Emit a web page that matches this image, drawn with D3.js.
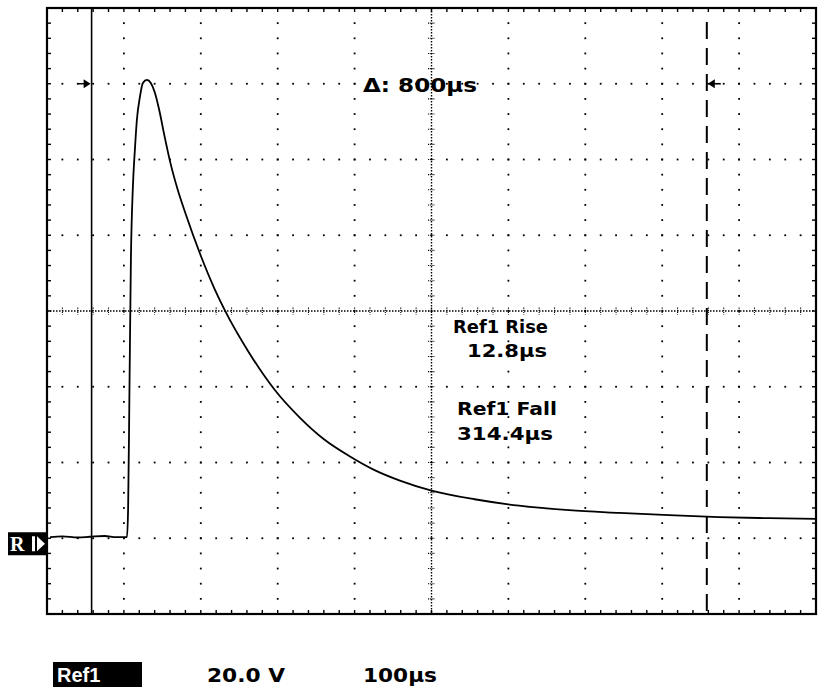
<!DOCTYPE html>
<html>
<head>
<meta charset="utf-8">
<script src="https://cdn.jsdelivr.net/npm/d3@7/dist/d3.min.js"></script>
<style>
  html, body { margin: 0; padding: 0; background: #fff; }
  svg { display: block; }
</style>
</head>
<body>
<script>
// Ref1 pulse: sample times (µs) and voltages (V)
const timeUs = [4, 20, 40, 56, 75, 90, 104, 105.5, 107.1, 109.1, 111.7, 114.3, 116.9, 120.8, 124.7,
  129.9, 135, 140, 146, 153, 160, 170, 180, 200, 218, 231, 264, 296, 329, 361, 394,
  426, 458, 500, 556, 614, 679, 744, 809, 874, 939, 1000];
const volts = [0.3, 0.5, 0.2, 0.4, 0.6, 0.3, 0.3, 8, 36.5, 73.5, 92.8, 102.6, 110.5, 116.5, 120.2,
  121.0, 120.2, 117.8, 113.0, 106.0, 99.5, 92.0, 85.8, 74.6, 65.8, 60.3, 48.6, 39.2, 31.8, 26.0, 21.6,
  18.0, 15.3, 12.6, 10.3, 8.6, 7.4, 6.7, 6.1, 5.6, 5.3, 5.1];

// Screen extents: 10 horizontal divisions at 100 µs/div, 8 vertical at 20 V/div
const timeDomain = [0, 1000];
const voltDomain = [-20, 140];
const timeDivs = [0, 100, 200, 300, 400, 500, 600, 700, 800, 900, 1000];
const voltDivs = [-20, 0, 20, 40, 60, 80, 100, 120, 140];

// Time cursors (solid, dashed) and the level they mark
const cursorTimes = [58, 858];
const cursorLevel = 120;

// Readouts
const deltaLabel = "\u0394: 800\u00b5s";
const measureLabels = ["Ref1 Rise", "12.8\u00b5s", "Ref1 Fall", "314.4\u00b5s"];
const statusLabels = ["Ref1", "20.0 V", "100\u00b5s"];

const W = 822, H = 690;
const svg = d3.select("body").append("svg").attr("width", W).attr("height", H);

const x = d3.scaleLinear().domain(timeDomain).range([47, 816]);
const y = d3.scaleLinear().domain(voltDomain).range([614, 8]);

const subT = (timeDivs[1] - timeDivs[0]) / 5;
const subV = (voltDivs[1] - voltDivs[0]) / 5;
const centreT = (timeDomain[0] + timeDomain[1]) / 2;
const centreV = (voltDomain[0] + voltDomain[1]) / 2;

const grat = svg.append("g").attr("fill", "#000");

// dotted division lines
const innerT = timeDivs.slice(1, -1).filter(t => t !== centreT);
const innerV = voltDivs.slice(1, -1).filter(v => v !== centreV);
const vSteps = d3.range(voltDomain[0] + subV, voltDomain[1], subV);
const tSteps = d3.range(timeDomain[0] + subT, timeDomain[1], subT);
innerT.forEach(t => {
  vSteps.forEach(v => grat.append("rect")
    .attr("x", x(t) - 0.9).attr("y", y(v) - 0.9).attr("width", 1.8).attr("height", 1.8));
});
innerV.forEach(v => {
  tSteps.forEach(t => grat.append("rect")
    .attr("x", x(t) - 0.9).attr("y", y(v) - 0.9).attr("width", 1.8).attr("height", 1.8));
});

// centre cross with sub-division ticks
const cross = svg.append("g").attr("stroke", "#000").attr("fill", "none");
cross.append("line")
  .attr("x1", x(centreT)).attr("x2", x(centreT)).attr("y1", y(voltDomain[1])).attr("y2", y(voltDomain[0]))
  .attr("stroke-width", 1.4).attr("stroke-dasharray", "1.5,1.5");
cross.append("line")
  .attr("x1", x(timeDomain[0])).attr("x2", x(timeDomain[1])).attr("y1", y(centreV)).attr("y2", y(centreV))
  .attr("stroke-width", 1.4).attr("stroke-dasharray", "1.5,1.5");
vSteps.forEach(v => cross.append("line")
  .attr("x1", x(centreT) - 3.5).attr("x2", x(centreT) + 3.5).attr("y1", y(v)).attr("y2", y(v))
  .attr("stroke-width", 1.1).attr("stroke-dasharray", "1.2,1"));
tSteps.forEach(t => cross.append("line")
  .attr("x1", x(t)).attr("x2", x(t)).attr("y1", y(centreV) - 3.5).attr("y2", y(centreV) + 3.5)
  .attr("stroke-width", 1.1).attr("stroke-dasharray", "1.2,1"));

// frame edge ticks
const edge = svg.append("g").attr("stroke", "#000").attr("stroke-width", 1.4);
tSteps.forEach(t => {
  edge.append("line").attr("x1", x(t)).attr("x2", x(t)).attr("y1", y(voltDomain[1])).attr("y2", y(voltDomain[1]) + 4);
  edge.append("line").attr("x1", x(t)).attr("x2", x(t)).attr("y1", y(voltDomain[0])).attr("y2", y(voltDomain[0]) - 4);
});
vSteps.forEach(v => {
  edge.append("line").attr("x1", x(timeDomain[0])).attr("x2", x(timeDomain[0]) + 4).attr("y1", y(v)).attr("y2", y(v));
  edge.append("line").attr("x1", x(timeDomain[1])).attr("x2", x(timeDomain[1]) - 4).attr("y1", y(v)).attr("y2", y(v));
});

// frame
svg.append("rect")
  .attr("x", x(timeDomain[0])).attr("y", y(voltDomain[1]))
  .attr("width", x(timeDomain[1]) - x(timeDomain[0]))
  .attr("height", y(voltDomain[0]) - y(voltDomain[1]))
  .attr("fill", "none").attr("stroke", "#000").attr("stroke-width", 2.2);

// cursors
svg.append("line")
  .attr("x1", x(cursorTimes[0])).attr("x2", x(cursorTimes[0]))
  .attr("y1", y(voltDomain[1])).attr("y2", y(voltDomain[0]))
  .attr("stroke", "#000").attr("stroke-width", 1.6);
svg.append("line")
  .attr("x1", x(cursorTimes[1])).attr("x2", x(cursorTimes[1]))
  .attr("y1", y(voltDomain[1]) + 14).attr("y2", y(voltDomain[0]))
  .attr("stroke", "#000").attr("stroke-width", 2).attr("stroke-dasharray", "17,9");

// cursor arrows at the marked level
const ay = y(cursorLevel);
const c0 = x(cursorTimes[0]), c1 = x(cursorTimes[1]);
svg.append("line").attr("x1", c0 - 14).attr("x2", c0 - 3).attr("y1", ay).attr("y2", ay)
  .attr("stroke", "#000").attr("stroke-width", 1.4);
svg.append("path").attr("d", `M${c0 - 1},${ay} L${c0 - 8},${ay - 4.5} L${c0 - 8},${ay + 4.5} Z`).attr("fill", "#000");
svg.append("line").attr("x1", c1 + 3).attr("x2", c1 + 14).attr("y1", ay).attr("y2", ay)
  .attr("stroke", "#000").attr("stroke-width", 1.6);
svg.append("path").attr("d", `M${c1 + 1},${ay} L${c1 + 8},${ay - 4.5} L${c1 + 8},${ay + 4.5} Z`).attr("fill", "#000");

// waveform
const trace = d3.line()
  .x((d, i) => x(timeUs[i]))
  .y(d => y(d))
  .curve(d3.curveMonotoneX);
svg.append("path")
  .attr("d", trace(volts))
  .attr("fill", "none").attr("stroke", "#000").attr("stroke-width", 1.8)
  .attr("stroke-linejoin", "round");

// ground reference marker
const gy = y(0);
svg.append("rect").attr("x", 8).attr("y", gy - 6).attr("width", 39).attr("height", 23).attr("fill", "#000");
svg.append("text").attr("x", 10).attr("y", gy + 13)
  .attr("font-family", "Liberation Serif").attr("font-weight", "bold").attr("font-size", 20)
  .attr("fill", "#fff").text("R");
svg.append("rect").attr("x", 32).attr("y", gy - 2).attr("width", 3).attr("height", 15).attr("fill", "#fff");
svg.append("path").attr("d", `M37,${gy - 2} L45,${gy + 5.5} L37,${gy + 13} Z`).attr("fill", "#fff");

// readout text
const font = "DejaVu Sans";
function label(txt, lx, by, w, size) {
  svg.append("text").attr("x", lx).attr("y", by)
    .attr("font-family", font).attr("font-weight", "bold").attr("font-size", size)
    .attr("textLength", w).attr("lengthAdjust", "spacingAndGlyphs")
    .attr("fill", "#000").text(txt);
}
label(deltaLabel, 363, 92, 114, 19);
label(measureLabels[0], 453, 333, 95, 18);
label(measureLabels[1], 467, 357, 80, 18);
label(measureLabels[2], 457, 415, 100, 18);
label(measureLabels[3], 457, 440, 96, 18);

// status line
svg.append("rect").attr("x", 53).attr("y", 662).attr("width", 89).attr("height", 25).attr("fill", "#000");
svg.append("text").attr("x", 57).attr("y", 682)
  .attr("font-family", "Liberation Sans Narrow, Liberation Sans").attr("font-weight", "bold").attr("font-size", 20)
  .attr("fill", "#fff").text(statusLabels[0]);
label(statusLabels[1], 207, 682, 78, 20);
label(statusLabels[2], 363, 682, 74, 20);
</script>
</body>
</html>
